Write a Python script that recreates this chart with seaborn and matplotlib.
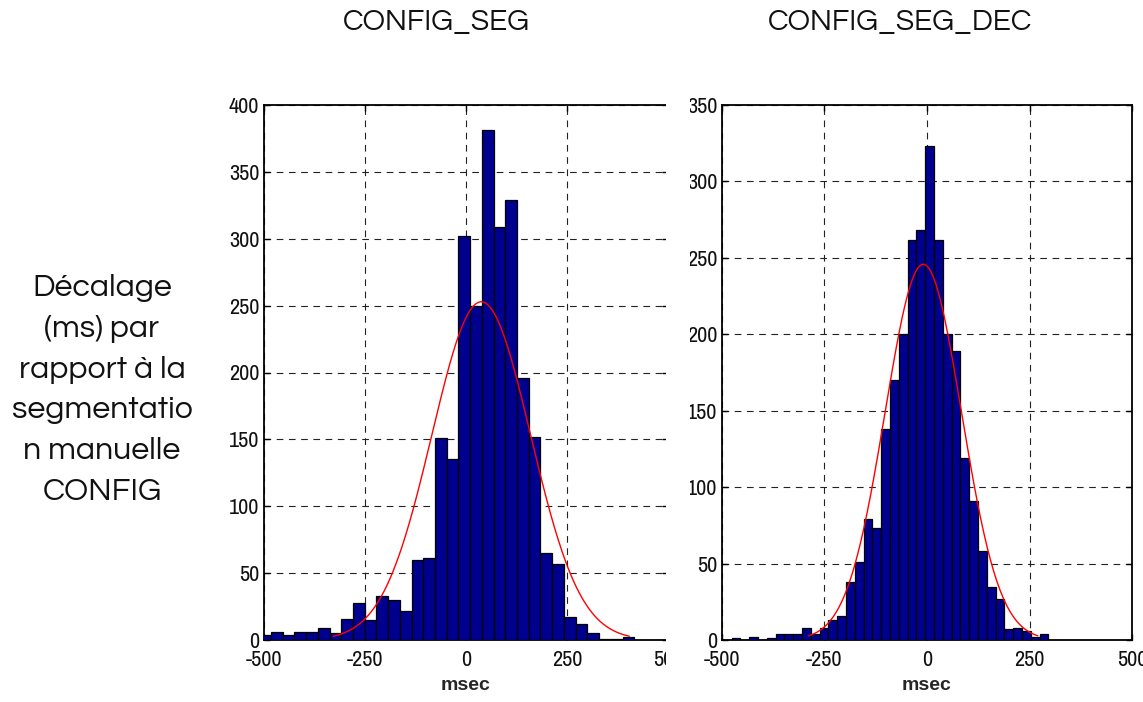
import numpy as np
import pandas as pd
import matplotlib
matplotlib.use("Agg")
import matplotlib.pyplot as plt
from matplotlib.patches import Rectangle
import seaborn as sns
import logging
logging.getLogger("matplotlib.font_manager").setLevel(logging.ERROR)

# ---------------- data ----------------
titles = ["CONFIG_SEG", "CONFIG_SEG_DEC"]
row_label = "Décalage\n(ms) par\nrapport à la\nsegmentatio\nn manuelle\nCONFIG"
x_label = "msec"

x_ticks = [-500, -250, 0, 250, 500]
x_tick_labels = ["-500", "-250", "0", "250", "500"]
left_y_ticks = [0, 50, 100, 150, 200, 250, 300, 350, 400]
right_y_ticks = [0, 50, 100, 150, 200, 250, 300, 350]

# histogram of CONFIG_SEG
left_bin_start = -510.6
left_bin_width = 28.96
left_counts = [4, 6, 4, 6, 6, 9, 5, 16, 28, 15, 33, 30, 22, 60, 61, 151,
               135, 302, 250, 381, 309, 329, 196, 152, 65, 57, 17, 12, 5, 1, 1, 2]
left_fit_mu = 38.0
left_fit_sigma = 122.0

# histogram of CONFIG_SEG_DEC
right_bin_start = -475.7
right_bin_width = 21.42
right_counts = [1, 0, 2, 0, 1, 4, 4, 4, 8, 4, 8, 13, 16, 38, 51, 79, 73, 138,
                170, 200, 262, 268, 323, 262, 200, 189, 119, 91, 58, 35, 27, 7, 8, 6, 2, 4]
right_fit_mu = -9.0
right_fit_sigma = 93.0

# ---------------- style ----------------
W, H, DPI = 1143, 702, 100
sns.set_theme(style="white")
narrow_font = ["Liberation Sans Narrow", "Archivo Narrow", "PT Sans Narrow", "Roboto Condensed",
               "Arial Narrow", "Pathway Gothic One", "Liberation Sans", "DejaVu Sans"]
title_font = ["Questrial", "Didact Gothic", "Century Gothic", "Lato", "DejaVu Sans"]
plt.rcParams["font.family"] = narrow_font
BAR = "#00008F"

fig = plt.figure(figsize=(W / DPI, H / DPI), dpi=DPI)
fig.patch.set_facecolor("white")


def px_axes(x0, x1, y_top, y_bot):
    return fig.add_axes([x0 / W, (H - y_bot) / H, (x1 - x0) / W, (y_bot - y_top) / H])


def draw_panel(ax, start, width, counts, mu, sigma, yticks, ymax):
    counts = np.asarray(counts, dtype=float)
    centers = start + width * (np.arange(len(counts)) + 0.5)
    df = pd.DataFrame({"x": centers, "w": counts})
    sns.histplot(data=df, x="x", weights="w", binwidth=width,
                 binrange=(start, start + width * len(counts)), ax=ax, color=BAR,
                 edgecolor="black", linewidth=0.9, alpha=1.0, zorder=3)
    n = counts.sum()
    xs = np.linspace(mu - 3 * sigma, mu + 3 * sigma, 300)
    ys = n * width * np.exp(-0.5 * ((xs - mu) / sigma) ** 2) / (sigma * np.sqrt(2 * np.pi))
    sns.lineplot(x=xs, y=ys, ax=ax, color="red", linewidth=1.0, zorder=4)
    ax.set_xlim(-500, 500)
    ax.set_ylim(0, ymax)
    ax.set_xticks(x_ticks)
    ax.set_xticklabels(x_tick_labels)
    ax.set_yticks(yticks)
    ax.set_yticklabels([str(t) for t in yticks])
    ax.grid(True, color="#222222", linestyle=(0, (6, 5)), linewidth=0.8, zorder=1)
    ax.set_axisbelow(True)
    ax.tick_params(axis="both", direction="in", length=4, width=1, labelsize=16,
                   top=True, right=True, bottom=True, left=True, colors="black",
                   labelcolor="#111111")
    ax.tick_params(axis="x", pad=7)
    ax.tick_params(axis="y", pad=3)
    for s in ax.spines.values():
        s.set_visible(True)
        s.set_color("black")
        s.set_linewidth(1.3)
    ax.set_xlabel(x_label, fontsize=14, fontweight="bold", labelpad=5,
                  family=["Liberation Sans", "DejaVu Sans"])
    ax.set_ylabel("")


ax1 = px_axes(263.5, 668.2, 105, 640)
draw_panel(ax1, left_bin_start, left_bin_width, left_counts, left_fit_mu, left_fit_sigma,
           left_y_ticks, 400)

ax2 = px_axes(721.7, 1132.3, 105, 640)
draw_panel(ax2, right_bin_start, right_bin_width, right_counts, right_fit_mu, right_fit_sigma,
           right_y_ticks, 350)

# the left image is cropped on its right side in the reference
fig.add_artist(Rectangle((665.5 / W, 0), (689.5 - 665.5) / W, 1, transform=fig.transFigure,
                         facecolor="white", edgecolor="none", zorder=5))

fig.text(436 / W, 1 - 23 / H, titles[0], ha="center", va="center", fontsize=21.5,
         family=title_font, color="#111111")
fig.text(900 / W, 1 - 23 / H, titles[1], ha="center", va="center", fontsize=21.5,
         family=title_font, color="#111111")
fig.text(102 / W, 1 - 390 / H, row_label, ha="center", va="center", fontsize=23,
         family=title_font, linespacing=1.58, color="#111111")

fig.savefig("out.png", dpi=DPI)
